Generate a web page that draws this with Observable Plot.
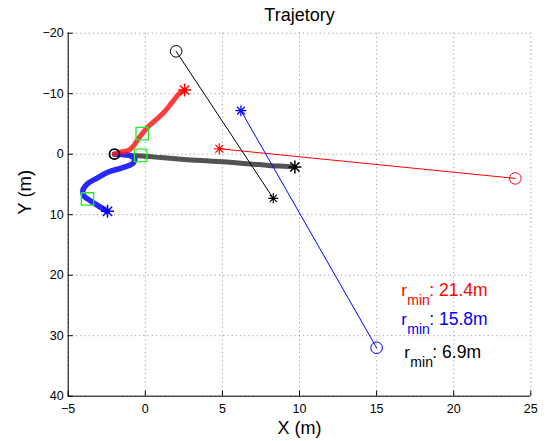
<!DOCTYPE html>
<html>
<head>
<meta charset="utf-8">
<script src="https://cdn.jsdelivr.net/npm/d3@7"></script>
<script src="https://cdn.jsdelivr.net/npm/@observablehq/plot@0.6"></script>
<style>
  html, body { margin: 0; padding: 0; background: #fff; }
  svg { display: block; }
</style>
</head>
<body>
<div id="chart"></div>
<script>
// ---- axes ----
const xTicks = [-5, 0, 5, 10, 15, 20, 25];
const yTicks = [-20, -10, 0, 10, 20, 30, 40];

// ---- own trajectories (thick) ----
const startX = [-2];
const startY = [0];

const redTrajX = [-2, -1.7, -1.1, -0.75, -0.5, -0.2, 0.1, 0.65, 1.2, 1.75, 2.2, 2.55];
const redTrajY = [0, -0.3, -0.6, -1.4, -2.4, -3.4, -4.3, -5.6, -6.9, -8.6, -10.0, -10.6];

const blueTrajX = [-2, -1.3, -0.85, -0.68, -0.85, -1.5, -2.4, -3.1, -3.75, -4.05, -4.0, -3.65, -3.1, -2.45];
const blueTrajY = [0, 0.05, 0.4, 0.95, 1.6, 2.25, 2.95, 3.9, 4.9, 6.0, 6.85, 7.55, 8.45, 9.45];

const blackTrajX = [-2, -1.5, -1, 0, 1, 2, 3, 4, 5, 6, 7, 8, 9, 9.7];
const blackTrajY = [0, 0.1, 0.2, 0.35, 0.55, 0.75, 0.95, 1.1, 1.25, 1.45, 1.65, 1.85, 2.0, 2.1];

// ---- green square markers ----
const squareX = [-0.2, -0.3, -3.75];
const squareY = [-3.4, 0.2, 7.4];

// ---- targets (thin lines: first point = star, second = circle) ----
const redTargetX = [4.8, 24.0];
const redTargetY = [-0.9, 4.0];
const blueTargetX = [6.2, 15.0];
const blueTargetY = [-7.2, 32.0];
const blackTargetX = [8.3, 2.0];
const blackTargetY = [7.3, -17.0];

// ---- annotations ----
const rminValues = ["21.4m", "15.8m", "6.9m"];
const rminX = [16.6, 16.6, 16.8];
const rminY = [23.4, 28.3, 33.65];

const zip = (xs, ys) => xs.map((x, i) => ({x, y: ys[i]}));

const asterisk8 = {
  draw(context, size) {
    const r = Math.sqrt(size / Math.PI);
    const d = r * Math.SQRT1_2;
    context.moveTo(-r, 0); context.lineTo(r, 0);
    context.moveTo(0, -r); context.lineTo(0, r);
    context.moveTo(-d, -d); context.lineTo(d, d);
    context.moveTo(-d, d); context.lineTo(d, -d);
  }
};

const redTraj = zip(redTrajX, redTrajY);
const blueTraj = zip(blueTrajX, blueTrajY);
const blackTraj = zip(blackTrajX, blackTrajY);
const redT = zip(redTargetX, redTargetY);
const blueT = zip(blueTargetX, blueTargetY);
const blackT = zip(blackTargetX, blackTargetY);
const squares = zip(squareX, squareY);
const start = zip(startX, startY);

const rminColors = ["#ff0000", "#0000ff", "#000000"];
const rminMarks = rminValues.flatMap((v, i) => {
  const row = [{x: rminX[i], y: rminY[i], v}];
  const common = {x: "x", y: "y", fill: rminColors[i], textAnchor: "start", lineAnchor: "bottom"};
  return [
    Plot.text(row, {...common, text: () => "r", fontSize: 17}),
    Plot.text(row, {...common, text: () => "min", fontSize: 14, dx: 6, dy: 9}),
    Plot.text(row, {...common, text: d => ": " + d.v, fontSize: 17.5, dx: 28}),
  ];
});

const chart = Plot.plot({
  width: 547,
  height: 441,
  marginLeft: 67.7,
  marginRight: 16.7,
  marginTop: 32.7,
  marginBottom: 45.3,
  style: {fontFamily: "'Liberation Sans', Arial, Helvetica, sans-serif", background: "#fff", color: "#000"},
  x: {domain: [-5, 25]},
  y: {domain: [-20, 40], reverse: true},
  marks: [
    Plot.gridX(xTicks, {stroke: "#888", strokeOpacity: 1, strokeWidth: 0.8, strokeDasharray: "1.2,3"}),
    Plot.gridY(yTicks, {stroke: "#888", strokeOpacity: 1, strokeWidth: 0.8, strokeDasharray: "1.2,3"}),
    Plot.ruleX([-5], {stroke: "#000", strokeWidth: 1}),
    Plot.ruleY([40], {stroke: "#000", strokeWidth: 1}),
    Plot.axisX(xTicks, {tickSize: -5, tickPadding: 13, fontSize: 12.5, label: null, stroke: "#000", fill: "#000"}),
    Plot.axisY(yTicks, {tickSize: -5, tickPadding: 9.5, fontSize: 12.5, label: null, stroke: "#000", fill: "#000"}),

    // thick trajectories
    Plot.line(blackTraj, {x: "x", y: "y", stroke: "#404040", strokeWidth: 5, strokeOpacity: 0.9, curve: "catmull-rom"}),
    Plot.line(blueTraj, {x: "x", y: "y", stroke: "#2828ff", strokeWidth: 5.5, curve: "catmull-rom"}),
    Plot.line(redTraj, {x: "x", y: "y", stroke: "#ff1a1a", strokeWidth: 5, strokeOpacity: 0.85, curve: "catmull-rom"}),
    Plot.dot([blackTraj[blackTraj.length - 1]], {x: "x", y: "y", symbol: asterisk8, r: 6.5, stroke: "#000", strokeWidth: 1.5, fill: "none"}),
    Plot.dot([blueTraj[blueTraj.length - 1]], {x: "x", y: "y", symbol: asterisk8, r: 6.5, stroke: "#0000ff", strokeWidth: 1.5, fill: "none"}),
    Plot.dot([redTraj[redTraj.length - 1]], {x: "x", y: "y", symbol: asterisk8, r: 6.5, stroke: "#ff0000", strokeWidth: 1.5, fill: "none"}),
    Plot.dot(start, {x: "x", y: "y", r: 5, stroke: "#000", strokeWidth: 1.8, fill: "none"}),

    // green squares
    Plot.dot(squares, {x: "x", y: "y", symbol: "square", r: 7, stroke: "#22ee22", strokeWidth: 1.3, fill: "none"}),

    // thin target lines
    Plot.line(redT, {x: "x", y: "y", stroke: "#ff0000", strokeWidth: 1}),
    Plot.line(blueT, {x: "x", y: "y", stroke: "#0000ff", strokeWidth: 1}),
    Plot.line(blackT, {x: "x", y: "y", stroke: "#000", strokeWidth: 1}),
    Plot.dot([redT[0]], {x: "x", y: "y", symbol: asterisk8, r: 5.5, stroke: "#ff0000", strokeWidth: 1.2, fill: "none"}),
    Plot.dot([blueT[0]], {x: "x", y: "y", symbol: asterisk8, r: 5.5, stroke: "#0000ff", strokeWidth: 1.2, fill: "none"}),
    Plot.dot([blackT[0]], {x: "x", y: "y", symbol: asterisk8, r: 5, stroke: "#000", strokeWidth: 1.2, fill: "none"}),
    Plot.dot([redT[1]], {x: "x", y: "y", r: 5.8, stroke: "#ff0000", strokeWidth: 1, fill: "none"}),
    Plot.dot([blueT[1]], {x: "x", y: "y", r: 5.8, stroke: "#0000ff", strokeWidth: 1, fill: "none"}),
    Plot.dot([blackT[1]], {x: "x", y: "y", r: 5.8, stroke: "#000", strokeWidth: 1, fill: "none"}),

    // annotations
    ...rminMarks,

    // titles
    Plot.text(["Trajetory"], {frameAnchor: "top", dy: -12, lineAnchor: "bottom", text: d => d, fontSize: 18, fill: "#000"}),
    Plot.text(["X (m)"], {frameAnchor: "bottom", dy: 37.5, lineAnchor: "bottom", text: d => d, fontSize: 18, fill: "#000"}),
    Plot.text(["Y (m)"], {frameAnchor: "left", dx: -43, rotate: -90, lineAnchor: "middle", text: d => d, fontSize: 18.5, fill: "#000"})
  ]
});

document.getElementById("chart").appendChild(chart);
</script>
</body>
</html>
